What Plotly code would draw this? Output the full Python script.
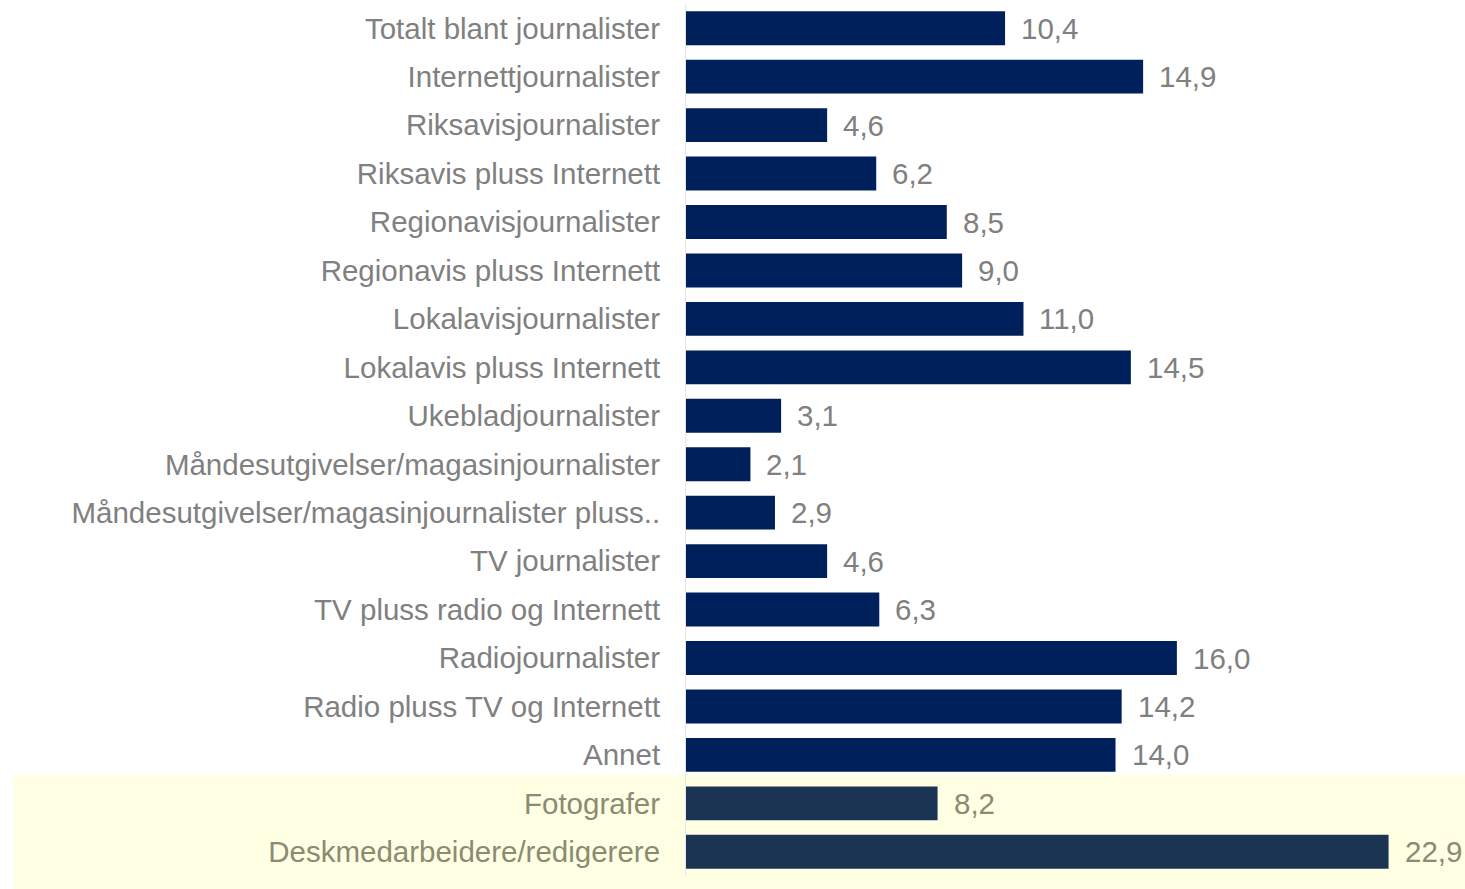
import plotly.graph_objects as go

categories = [
    "Totalt blant journalister",
    "Internettjournalister",
    "Riksavisjournalister",
    "Riksavis pluss Internett",
    "Regionavisjournalister",
    "Regionavis pluss Internett",
    "Lokalavisjournalister",
    "Lokalavis pluss Internett",
    "Ukebladjournalister",
    "Måndesutgivelser/magasinjournalister",
    "Måndesutgivelser/magasinjournalister pluss..",
    "TV journalister",
    "TV pluss radio og Internett",
    "Radiojournalister",
    "Radio pluss TV og Internett",
    "Annet",
    "Fotografer",
    "Deskmedarbeidere/redigerere",
]
values = [10.4, 14.9, 4.6, 6.2, 8.5, 9.0, 11.0, 14.5, 3.1, 2.1, 2.9, 4.6, 6.3, 16.0, 14.2, 14.0, 8.2, 22.9]
highlighted = [False] * 16 + [True, True]

BAR = "#00205B"
BAR_HL = "#1B3454"
TXT = "#808080"
TXT_HL = "#8B8B72"

L, R, T, B = 686, 12, 4, 13
W, H = 1465, 889
xmax = 25.0

fig = go.Figure()
fig.add_trace(go.Bar(
    y=categories,
    x=values,
    orientation="h",
    width=0.70,
    marker=dict(color=[BAR_HL if h else BAR for h in highlighted], line=dict(width=0)),
    hoverinfo="skip",
))

font = dict(family="Liberation Sans, Arial, sans-serif", size=29.5)
for c, v, h in zip(categories, values, highlighted):
    fig.add_annotation(
        x=v, y=c, xref="x", yref="y",
        text=f"{v:.1f}".replace(".", ","),
        showarrow=False, xanchor="left", yanchor="middle", xshift=14,
        font=dict(font, color=TXT_HL if h else TXT),
    )

plot_w = W - L - R
plot_h = H - T - B
fig.add_shape(
    type="rect", layer="below",
    xref="paper", yref="paper",
    x0=(14 - L) / plot_w, x1=(W - L + 5) / plot_w,
    y0=(H - B - 889 - 5) / plot_h, y1=(H - B - 775) / plot_h,
    fillcolor="#FFFFE4", line=dict(width=0),
)

fig.update_layout(
    width=W, height=H,
    margin=dict(l=L, r=R, t=T, b=B, pad=0, autoexpand=False),
    paper_bgcolor="white", plot_bgcolor="rgba(0,0,0,0)",
    showlegend=False,
    bargap=0.3,
    font=font,
)
fig.update_xaxes(range=[0, xmax], visible=False, showgrid=False, zeroline=False)
fig.update_yaxes(
    autorange="reversed", showgrid=False, zeroline=False,
    showline=True, linecolor="#E6E6E6", linewidth=1,
    ticks="", ticklabelstandoff=19, automargin=False,
    tickfont=dict(font, color=TXT),
    tickmode="array", tickvals=categories,
    ticktext=[f"<span style='color:{TXT_HL if h else TXT}'>{c}</span>" for c, h in zip(categories, highlighted)],
)

fig.write_html(
    "out.html",
    config={"displayModeBar": False},
    post_script="document.body.style.margin='0';document.body.style.overflow='hidden';",
)
